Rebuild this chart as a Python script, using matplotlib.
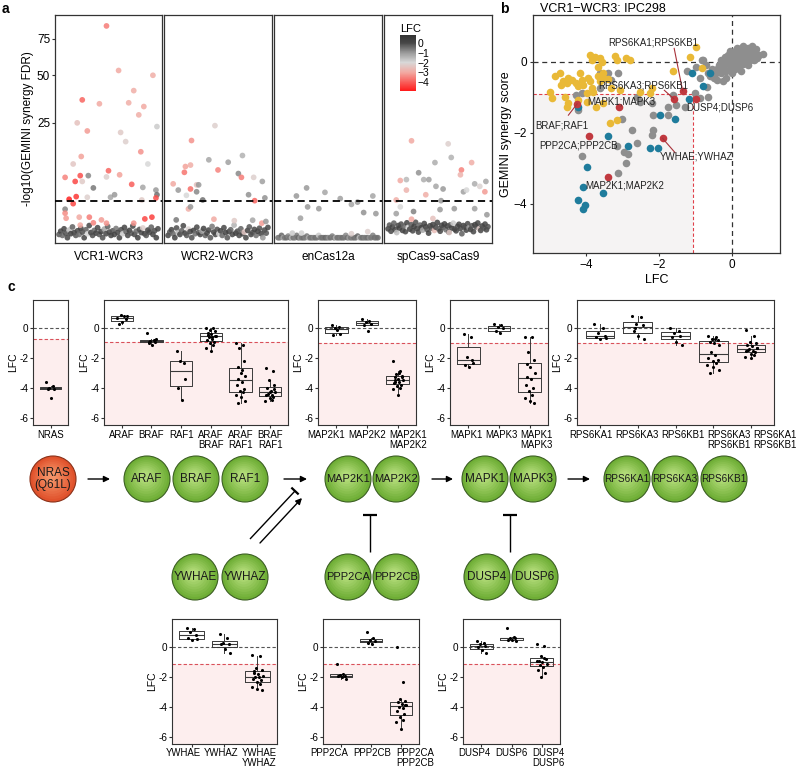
import numpy as np
import matplotlib
matplotlib.use('Agg')
import matplotlib.pyplot as plt
from matplotlib.colors import LinearSegmentedColormap, Normalize, to_rgb
from matplotlib.cm import ScalarMappable
from matplotlib.patches import Circle, Rectangle

plt.rcParams['font.family'] = ['Liberation Sans', 'DejaVu Sans']

# ---------------------------------------------------------------- panel a data
FACETS = ['VCR1-WCR3', 'WCR2-WCR3', 'enCas12a', 'spCas9-saCas9']

# outliers: position rank in facet (0-1), -log10 FDR, LFC
A1_RANK = [0.48,0.60,0.94,0.24,0.41,0.75,0.70,0.85,0.80,0.19,0.29,0.62,0.67,0.98,0.82,0.23,0.15,0.89,0.07,0.50,
           0.22,0.61,0.30,0.24,0.17,0.48,0.73,0.84,0.35,0.97,0.98,0.52,0.56,0.29,0.11,0.15,0.18,0.97,0.83,0.07,
           0.07,0.08,0.86,0.93,0.21,0.31,0.43,0.48,0.75,0.35,0.22]
A1_FDR = [85,53,50,36,34,41,34.5,32.6,28.6,25,21.6,21,17.5,23.4,14,12.5,10.3,10.3,6.9,8.5,
          7.3,7.5,7.3,6.0,6.0,7.0,5.4,4.8,4.7,4.3,3.5,3.1,3.5,3.1,2.8,2.2,3.2,3.0,2.7,1.54,
          1.14,0.72,0.67,0.8,0.8,0.8,0.6,0.4,0.4,0.42,0.3]
A1_LFC = [-3.6,-3.0,-2.9,-3.9,-3.0,-2.9,-2.9,-3.0,-2.9,-2.5,-3.2,-2.3,-2.2,-1.8,-3.3,-3.1,-2.4,-2.0,-3.5,-3.9,
          -4.2,-3.1,-0.8,-2.3,-4.3,-2.2,-4.0,-1.2,-0.6,-1.0,-0.5,-1.2,-1.0,-2.2,-4.8,-4.3,-4.5,-4.2,-2.3,-0.7,
          -3.4,-3.2,-4.3,-4.4,-3.0,-3.6,-3.2,-3.3,-3.3,-3.5,-3.0]
A1_BG_FDR = [0.02,0.08,0.01,0.15,0.04,0.0,0.11,0.03,0.22,0.05,0.01,0.09,0.02,0.17,0.06,0.0,0.12,0.03,0.28,0.05,
             0.01,0.1,0.04,0.19,0.02,0.07,0.0,0.14,0.03,0.24,0.06,0.01,0.09,0.02,0.16,0.05,0.0,0.12,0.03,0.2,
             0.07,0.01,0.1,0.04,0.26,0.02,0.08,0.0,0.13,0.05,0.18,0.03,0.01,0.11,0.06,0.21,0.02,0.09,0.0,0.15]
A1_BG_LFC = [-0.2,0.1,-0.4,0.2,-0.1,0.0,-1.6,0.3,-0.3,0.1,-0.2,0.0,-0.5,0.2,-0.1,0.1,-0.3,-2.0,0.0,0.2,
             -0.1,-0.4,0.1,0.0,-0.2,0.3,-0.1,-1.2,0.1,-0.3,0.0,0.2,-0.2,0.1,-0.6,0.0,0.2,-0.1,-1.8,0.1,
             -0.3,0.0,0.2,-0.2,0.1,0.0,-0.4,0.3,-0.1,0.0,-2.2,0.1,-0.2,0.2,0.0,-0.3,0.1,-0.1,0.2,0.0]

A2_RANK = [0.47,0.24,0.41,0.74,0.60,0.18,0.23,0.17,0.50,0.70,0.73,0.85,0.06,0.29,0.31,0.23,0.11,0.29,0.19,0.80,
           0.86,0.35,0.21,0.23,0.09,0.46,0.66,0.84,0.93,0.935,0.96,0.97]
A2_FDR = [23.8,17.9,11.5,12.8,10.8,9.6,10.0,8.1,8.7,7.8,6.9,6.9,5.5,5.3,5.3,4.5,4.3,4.0,3.4,3.5,
          2.6,2.7,1.57,1.8,0.6,0.65,0.55,0.58,0.4,6.0,3.0,0.5]
A2_LFC = [-2.2,-3.3,-1.2,-1.4,-1.1,-3.1,-2.9,-3.7,-3.5,-0.8,-3.6,-2.2,-3.0,-2.5,-1.0,-3.8,-1.0,-0.8,-2.0,-0.9,
          -3.9,-0.5,-2.9,-1.0,-0.6,-3.0,-2.3,-1.2,-3.2,-1.1,-0.9,-1.0]
A2_BG_FDR = [0.01,0.06,0.12,0.03,0.0,0.18,0.05,0.02,0.09,0.27,0.04,0.01,0.14,0.07,0.0,0.1,0.03,0.21,0.05,0.02,
             0.08,0.16,0.01,0.04,0.11,0.0,0.24,0.06,0.02,0.13,0.03,0.09,0.01,0.19,0.05,0.0,0.07,0.12,0.02,0.3,
             0.04,0.08,0.01,0.15,0.03,0.06,0.0,0.1,0.22,0.02,0.05,0.13,0.01,0.08,0.17,0.03,0.0,0.11,0.04,0.2]
A2_BG_LFC = [0.1,-0.2,0.0,-0.4,0.2,-0.1,-1.5,0.1,-0.3,0.0,0.2,-0.2,-2.1,0.1,-0.1,0.3,-0.5,0.0,-0.2,0.1,
             -1.1,0.2,-0.3,0.0,0.1,-0.2,-0.6,0.2,0.0,-0.1,-1.9,0.1,-0.4,0.0,0.2,-0.2,0.1,-0.3,0.0,-1.4,
             0.2,-0.1,0.0,-0.3,0.1,-2.4,0.0,0.2,-0.2,0.1,-0.1,0.0,-0.5,0.2,-0.1,0.1,-1.0,0.0,-0.2,0.1]

A3_RANK = [0.29,0.19,0.47,0.62,0.94,0.30,0.41,0.23,0.79,0.85,0.73,0.97,0.89,0.15,0.24,0.73]
A3_FDR = [4.7,3.3,3.9,2.9,3.3,1.8,1.6,0.72,2.4,1.2,2.1,1.1,0.07,0.04,0.04,0.03]
A3_LFC = [-1.0,-1.0,-1.2,-1.1,-1.2,-1.0,-1.0,-1.1,-1.0,-0.9,-1.2,-1.0,-2.2,-1.8,-1.9,-2.2]
A3_BG_FDR = [0.0,0.0,0.01,0.0,0.0,0.0,0.005,0.0,0.0,0.0,0.0,0.01,0.0,0.0,0.0,0.0,0.0,0.005,0.0,0.0,
             0.0,0.0,0.0,0.0,0.01,0.0,0.0,0.0,0.0,0.0,0.0,0.0,0.005,0.0,0.0,0.0,0.0,0.0,0.0,0.0,
             0.01,0.0,0.0,0.0,0.0,0.0,0.0,0.005,0.0,0.0,0.0,0.0,0.0,0.0,0.0,0.0,0.01,0.0,0.0,0.0]
A3_BG_LFC = [-0.5,-0.7,-0.4,-1.2,-0.6,-0.5,-0.8,-0.6,-1.5,-0.5,-0.7,-0.6,-0.4,-1.0,-0.6,-0.5,-0.7,-0.6,-1.3,-0.5,
             -0.6,-0.8,-0.5,-0.6,-1.8,-0.7,-0.5,-0.6,-0.4,-0.6,-0.9,-0.5,-0.7,-0.6,-1.4,-0.5,-0.6,-0.7,-0.5,-0.6,
             -0.8,-0.5,-1.1,-0.6,-0.7,-0.5,-0.6,-0.4,-1.6,-0.6,-0.5,-0.7,-0.6,-0.5,-0.9,-0.6,-0.7,-0.5,-0.6,-0.5]

A4_RANK = [0.24,0.60,0.63,0.47,0.83,0.73,0.72,0.13,0.19,0.31,0.36,0.41,0.48,0.55,0.19,0.38,0.75,0.78,0.86,0.91,
           0.97,0.96,0.09,0.53,0.13,0.26,0.52,0.66,0.86,0.98,0.09,0.24,0.45,0.61]
A4_FDR = [17.8,16.7,12.2,10.7,10.7,8.7,7.5,6.2,6.4,8.0,6.4,6.4,5.0,4.5,4.3,3.5,4.0,4.3,5.5,5.0,
          6.0,4.0,2.7,2.6,1.8,1.3,1.5,1.6,1.6,1.0,1.1,0.65,0.7,0.05]
A4_LFC = [-3.0,-2.2,-1.4,-1.3,-2.9,-3.5,-2.8,-3.0,-1.5,-0.9,-1.3,-1.1,-1.2,-1.0,-2.8,-2.9,-1.1,-2.0,-1.3,-2.1,
          -1.2,-3.2,-2.9,-1.0,-2.0,-0.7,-1.0,-1.0,-1.1,-1.0,-1.1,-3.0,-2.5,-2.3]
A4_BG_FDR = [0.15,0.3,0.08,0.22,0.4,0.12,0.05,0.28,0.18,0.35,0.1,0.25,0.07,0.42,0.2,0.14,0.32,0.09,0.24,0.45,
             0.16,0.06,0.3,0.19,0.11,0.38,0.23,0.13,0.04,0.27,0.17,0.33,0.1,0.21,0.44,0.15,0.08,0.29,0.2,0.36,
             0.12,0.26,0.06,0.31,0.18,0.4,0.14,0.09,0.24,0.34,0.16,0.03,0.28,0.21,0.11,0.37,0.19,0.13,0.27,0.07,
             0.32,0.22,0.41,0.15,0.1,0.26,0.18,0.35,0.12,0.23]
A4_BG_LFC = [0.1,-0.2,0.0,0.2,-0.3,0.1,-1.6,0.0,0.2,-0.1,0.1,-0.4,0.0,0.2,-2.0,0.1,-0.2,0.0,0.3,-0.1,
             0.1,0.0,-0.3,0.2,-1.2,0.0,0.1,-0.2,0.2,0.0,-0.1,0.1,-2.6,0.0,0.2,-0.3,0.1,0.0,-0.1,0.2,
             -0.5,0.1,0.0,-0.2,0.2,-1.8,0.0,0.1,-0.1,0.2,0.0,-0.3,0.1,-0.1,0.2,0.0,-1.0,0.1,-0.2,0.0,
             0.2,-0.1,0.1,-2.3,0.0,0.2,-0.2,0.1,0.0,-0.1]
FDR_LINE = 2.56

# ---------------------------------------------------------------- panel b data
B_GRAY_LFC = [-4.26,-4.21,-4.12,-3.62,-3.39,-3.30,-3.62,-3.11,-2.61,-2.52,-2.20,-2.16,-1.74,-1.74,-1.61,-1.29,-1.52,
              -2.75,-2.61,-2.20,-2.16,-3.16,-3.02,-2.96,-2.89,-2.84,-4.12,-3.11,-1.01,-0.88,-0.65,-0.69,-0.83,-0.97,
              -1.24,-0.88,
              -0.45,-0.4,-0.35,-0.3,-0.25,-0.2,-0.15,-0.1,-0.05,0.0,0.05,0.1,0.15,0.2,0.25,0.3,0.35,0.4,0.45,0.5,
              0.55,0.6,0.65,0.75,0.85,0.3,0.2,0.1,-0.1,-0.2,-0.3,-0.5,-0.6,-0.55,-0.4,0.0,0.1,0.2,0.3,0.4,0.5,
              0.6,0.7,0.05,-0.05,0.15,0.35,0.45,0.55,0.25,-0.15,-0.25,-0.7,-0.8,-0.65,0.0,0.25,0.45,-0.05,0.65]
B_GRAY_SCORE = [-0.93,-1.35,-0.88,-0.30,-0.30,-0.51,-0.74,-0.32,-0.98,-1.12,-1.16,-1.49,-1.26,-1.49,-0.93,-1.26,-1.21,
                -1.92,-2.29,-2.06,-1.92,-2.38,-1.62,-2.55,-2.84,-2.59,-2.65,-3.14,-0.88,-1.02,-0.98,-0.71,0.06,-0.13,
                -0.27,-0.46,
                -0.35,-0.2,-0.1,-0.3,-0.15,-0.05,-0.25,0.0,-0.1,0.05,-0.05,0.1,0.0,0.15,0.05,0.2,0.1,0.25,0.15,0.3,
                0.2,0.25,0.15,0.2,0.22,0.45,0.35,0.3,0.2,0.15,0.05,-0.45,-0.4,-0.2,-0.5,-0.3,-0.2,-0.1,-0.05,0.0,0.05,
                0.05,0.1,0.2,0.3,0.4,0.35,0.4,0.45,-0.25,-0.45,-0.55,-0.1,0.05,-0.3,0.15,0.25,-0.1,-0.2,0.35]
B_YEL_LFC = [-4.99,-4.85,-4.71,-4.62,-4.53,-4.67,-4.48,-4.39,-4.26,-4.12,-3.89,-3.84,-3.75,-3.62,-3.66,-3.57,-3.89,
             -3.94,-4.07,-3.84,-4.21,-3.98,-3.80,-3.66,-3.53,-3.39,-3.21,-2.89,-2.79,-4.21,-3.98,-3.71,-3.53,-4.53,
             -4.48,-3.16,-3.34,-3.62,-3.30,-3.07,-1.61,-1.15,-0.97,-0.83,-2.25,-2.20,-4.94,-4.58,-4.16,-3.53,-3.16,
             -2.52]
B_YEL_SCORE = [-0.84,-0.41,-0.32,-0.55,-0.60,-0.65,-0.46,-0.51,-0.60,-0.51,0.20,0.06,0.15,0.10,-0.13,0.01,-0.55,
               -0.46,-0.65,-0.74,-0.68,-0.88,-0.84,-0.41,-0.46,-0.49,0.17,0.10,0.06,-1.07,-1.12,-1.26,-1.16,-1.26,
               -1.16,-1.63,-1.73,-0.55,-0.74,-0.79,-0.27,0.15,0.43,-0.18,-0.88,-0.74,-1.02,-0.98,-0.32,-0.32,0.06,
               -0.84]
B_BLUE_LFC = [-1.10,-0.60,-0.79,-1.18,-1.56,-1.97,-3.39,-2.84,-2.25,-2.02,-3.98,-4.07,-4.21,-4.03,-4.09,-3.53,-4.21]
B_BLUE_SCORE = [-0.30,-0.32,-0.69,-1.05,-1.61,-1.50,-2.10,-2.38,-2.43,-2.43,-2.95,-3.51,-3.89,-4.03,-4.15,-3.70,-1.28]
B_RED_NAMES = ['RPS6KA1;RPS6KB1','RPS6KA3;RPS6KB1','DUSP4;DUSP6','MAPK1;MAPK3','BRAF;RAF1',
               'PPP2CA;PPP2CB','YWHAE;YWHAZ','MAP2K1;MAP2K2']
B_RED_LFC = [-1.35,-1.59,-0.97,-3.10,-4.24,-3.91,-1.90,-3.39]
B_RED_SCORE = [-0.81,-1.04,-1.04,-1.28,-1.18,-2.08,-2.15,-3.23]
B_LFC_CUT = -1.07
B_SCORE_CUT = -0.9

# ---------------------------------------------------------------- panel c data
NRAS = [-3.6,-3.9,-4.0,-4.05,-4.1,-4.7]
ARAF = [0.7,0.8,0.9,0.6,0.3,0.4,0.85]
BRAF = [-0.3,-0.8,-0.85,-0.9,-1.0,-1.1,-0.75,-0.9]
RAF1 = [-1.5,-2.3,-2.2,-3.4,-4.0,-4.8]
ARAF_BRAF = [0.0,0.0,-0.1,-0.2,-0.3,-0.4,-0.5,-0.6,-0.7,-0.8,-0.9,-1.0,-1.1,-1.3,-1.5,-0.5,-0.45,-0.6]
ARAF_RAF1 = [-1.0,-1.1,-1.3,-2.2,-2.6,-3.0,-3.2,-3.4,-3.6,-3.8,-4.1,-4.2,-4.3,-4.5,-4.6,-4.9,-5.0,-2.8]
BRAF_RAF1 = [-2.7,-2.9,-3.5,-3.8,-4.0,-4.2,-4.3,-4.4,-4.5,-4.5,-4.6,-4.7,-4.8,-4.9,-4.3,-4.1]
MAP2K1 = [0.2,0.1,0.0,-0.4,-0.45,-0.1]
MAP2K2 = [0.6,0.5,0.4,0.3,0.2,-0.2]
MAP2K1_MAP2K2 = [-2.2,-2.9,-3.1,-3.2,-3.3,-3.4,-3.5,-3.5,-3.6,-3.7,-3.8,-3.9,-4.0,-4.1,-4.5,-3.3,-3.6,-3.0]
MAPK1 = [-0.4,-0.6,-1.9,-2.1,-2.5,-2.6,-2.3]
MAPK3 = [0.3,0.2,0.1,0.0,-0.2,-0.3]
MAPK1_MAPK3 = [-0.6,-0.6,-1.6,-2.1,-2.4,-2.6,-3.0,-3.3,-3.4,-3.8,-4.0,-4.2,-4.5,-4.7,-4.9,-5.0]
RPS6KA1 = [0.3,0.0,-0.3,-0.5,-0.6,-0.7,-0.65]
RPS6KA3 = [0.8,0.75,0.3,0.2,-0.2,-0.55,-0.75,0.0]
RPS6KB1 = [0.0,-0.2,-0.3,-0.5,-0.6,-0.9,-1.1]
RPS6KA3_RPS6KB1 = [-0.5,-0.6,-0.7,-0.8,-0.9,-1.0,-1.1,-1.6,-1.8,-2.0,-2.1,-2.2,-2.3,-2.5,-2.6,-2.8,-3.0,-0.75]
RPS6KA1_RPS6KB1 = [-0.1,-0.5,-0.9,-1.0,-1.1,-1.2,-1.3,-1.4,-1.5,-1.5,-1.6,-1.7,-1.8,-1.9,-2.0,-1.35,-1.45]
YWHAE = [1.3,1.2,1.0,0.8,0.6,0.5,0.55]
YWHAZ = [0.9,0.6,0.3,0.2,0.2,-0.1,-0.4]
YWHAE_YWHAZ = [-0.5,-0.6,-1.4,-1.5,-1.6,-1.8,-1.9,-2.0,-2.0,-2.1,-2.2,-2.3,-2.5,-2.7,-2.8,-2.9,-1.7]
PPP2CA = [-1.1,-1.8,-1.85,-1.9,-1.95,-2.0,-2.1]
PPP2CB = [1.0,0.6,0.5,0.4,0.3,0.2]
PPP2CA_PPP2CB = [0.0,-2.3,-3.5,-3.6,-3.7,-3.8,-3.9,-4.0,-4.1,-4.3,-4.5,-4.7,-4.9,-5.0,-5.5,-3.9]
DUSP4 = [0.4,0.3,0.2,0.1,0.0,-0.2,-0.4]
DUSP6 = [1.3,0.7,0.6,0.6,0.5,0.5,0.4]
DUSP4_DUSP6 = [0.2,0.1,-0.6,-0.8,-0.9,-1.0,-1.1,-1.2,-1.3,-1.5,-1.7,-2.0,-0.7,-0.95]

C_PANELS_ROW1 = [
    (['NRAS'], [NRAS], -0.73),
    (['ARAF','BRAF','RAF1','ARAF\nBRAF','ARAF\nRAF1','BRAF\nRAF1'],
     [ARAF,BRAF,RAF1,ARAF_BRAF,ARAF_RAF1,BRAF_RAF1], -0.93),
    (['MAP2K1','MAP2K2','MAP2K1\nMAP2K2'], [MAP2K1,MAP2K2,MAP2K1_MAP2K2], -1.0),
    (['MAPK1','MAPK3','MAPK1\nMAPK3'], [MAPK1,MAPK3,MAPK1_MAPK3], -1.0),
    (['RPS6KA1','RPS6KA3','RPS6KB1','RPS6KA3\nRPS6KB1','RPS6KA1\nRPS6KB1'],
     [RPS6KA1,RPS6KA3,RPS6KB1,RPS6KA3_RPS6KB1,RPS6KA1_RPS6KB1], -0.98),
]
C_PANELS_ROW2 = [
    (['YWHAE','YWHAZ','YWHAE\nYWHAZ'], [YWHAE,YWHAZ,YWHAE_YWHAZ], -1.13),
    (['PPP2CA','PPP2CB','PPP2CA\nPPP2CB'], [PPP2CA,PPP2CB,PPP2CA_PPP2CB], -1.13),
    (['DUSP4','DUSP6','DUSP4\nDUSP6'], [DUSP4,DUSP6,DUSP4_DUSP6], -1.13),
]

# ---------------------------------------------------------------- figure
W, H = 798, 768
fig = plt.figure(figsize=(W / 100, H / 100), dpi=100)


def px_axes(l, t, r, b, **kw):
    return fig.add_axes([l / W, 1 - b / H, (r - l) / W, (b - t) / H], **kw)


FRAME = '#333333'

# ---- panel a
norm = Normalize(vmin=-4.9, vmax=0.8)
cmap = LinearSegmentedColormap.from_list('lfc', [
    (0.0, '#ff1a1a'), (0.333, '#f2aaa2'), (0.509, '#d8d8d8'),
    (0.684, '#9a9a9a'), (0.86, '#474747'), (1.0, '#333333')])


def fwd(v):
    v = np.asarray(v, dtype=float)
    return np.sign(v) * np.sqrt(np.abs(v))


def inv(v):
    v = np.asarray(v, dtype=float)
    return np.sign(v) * v ** 2


facet_px = [(55, 162), (164, 272), (274, 382), (384, 492)]
facet_data = [
    (A1_RANK, A1_FDR, A1_LFC, A1_BG_FDR, A1_BG_LFC),
    (A2_RANK, A2_FDR, A2_LFC, A2_BG_FDR, A2_BG_LFC),
    (A3_RANK, A3_FDR, A3_LFC, A3_BG_FDR, A3_BG_LFC),
    (A4_RANK, A4_FDR, A4_LFC, A4_BG_FDR, A4_BG_LFC),
]
for i, ((l, r), name, (rk, fd, lf, bfd, blf)) in enumerate(zip(facet_px, FACETS, facet_data)):
    ax = px_axes(l, 15, r, 243)
    ax.set_yscale('function', functions=(fwd, inv))
    n = min(len(bfd), len(blf))
    bx = np.linspace(0.01, 0.99, n)
    ax.scatter(bx, bfd[:n], c=blf[:n], cmap=cmap, norm=norm, s=17, alpha=0.85, lw=0, zorder=2)
    m = min(len(rk), len(fd), len(lf))
    ax.scatter(rk[:m], fd[:m], c=lf[:m], cmap=cmap, norm=norm, s=17, alpha=0.85, lw=0, zorder=3)
    ax.axhline(FDR_LINE, color='black', lw=1.3, ls=(0, (4, 2.5)), zorder=4)
    ax.set_xlim(-0.03, 1.03)
    ax.set_ylim(-0.053, 94)
    ax.set_xticks([])
    for s in ax.spines.values():
        s.set_color(FRAME)
        s.set_linewidth(0.9)
    if i == 0:
        ax.set_yticks([25, 50, 75])
        ax.set_yticklabels(['25', '50', '75'], fontsize=8.5)
        ax.tick_params(axis='y', length=2, pad=1.5, color=FRAME)
        ax.yaxis.set_minor_locator(matplotlib.ticker.NullLocator())
        ax.set_ylabel('-log10(GEMINI synergy FDR)', fontsize=8.5, labelpad=2)
    else:
        ax.set_yticks([])
        ax.yaxis.set_minor_locator(matplotlib.ticker.NullLocator())
    ax.text(0.5, -0.035, name, transform=ax.transAxes, ha='center', va='top', fontsize=8.5)

cax = px_axes(400, 35, 416, 91)
cb = fig.colorbar(ScalarMappable(norm=norm, cmap=cmap), cax=cax)
cb.outline.set_visible(False)
cb.set_ticks([0, -1, -2, -3, -4])
cb.set_ticklabels(['0', '\u22121', '\u22122', '\u22123', '\u22124'])
cax.tick_params(length=0, pad=1, labelsize=7.5)
cax.set_title('LFC', fontsize=8, loc='left', pad=2)

# ---- panel b
axb = px_axes(533, 15, 780, 253)
xl, yl = (-5.45, 1.32), (-5.38, 1.32)
axb.add_patch(Rectangle((xl[0], yl[0]), B_LFC_CUT - xl[0], B_SCORE_CUT - yl[0],
                        facecolor='#f5f3f3', edgecolor='none', zorder=0))
axb.plot([xl[0], B_LFC_CUT], [B_SCORE_CUT, B_SCORE_CUT], color='#e0404a', lw=0.8, ls=(0, (3, 2)), zorder=1)
axb.plot([B_LFC_CUT, B_LFC_CUT], [yl[0], B_SCORE_CUT], color='#e0404a', lw=0.8, ls=(0, (3, 2)), zorder=1)
axb.axhline(0, color='#333333', lw=0.9, ls=(0, (4, 3)), zorder=1)
axb.axvline(0, color='#333333', lw=0.9, ls=(0, (4, 3)), zorder=1)
axb.scatter(B_GRAY_LFC, B_GRAY_SCORE, s=30, color='#8e8e8e', lw=0, zorder=2)
axb.scatter(B_YEL_LFC, B_YEL_SCORE, s=30, color='#e9b937', lw=0, zorder=3)
axb.scatter(B_BLUE_LFC, B_BLUE_SCORE, s=30, color='#1f7c9c', lw=0, zorder=3)
axb.scatter(B_RED_LFC, B_RED_SCORE, s=30, color='#c1393f', lw=0, zorder=4)
lab_pos = {
    'RPS6KA1;RPS6KB1': ((-2.16, 0.55), (-1.58, 0.38)),
    'RPS6KA3;RPS6KB1': ((-2.43, -0.67), (-1.85, -0.8)),
    'MAPK1;MAPK3': ((-3.02, -1.12), None),
    'DUSP4;DUSP6': ((-0.33, -1.29), None),
    'BRAF;RAF1': ((-4.67, -1.79), (-4.48, -1.5)),
    'PPP2CA;PPP2CB': ((-4.19, -2.36), None),
    'YWHAE;YWHAZ': ((-0.97, -2.67), (-1.56, -2.55)),
    'MAP2K1;MAP2K2': ((-2.93, -3.49), None),
}
for nm, x0, y0 in zip(B_RED_NAMES, B_RED_LFC, B_RED_SCORE):
    (tx, ty), ls = lab_pos[nm]
    if ls is not None:
        axb.plot([ls[0], x0], [ls[1], y0], color='#a8323a', lw=0.8, zorder=5)
    axb.text(tx, ty, nm, fontsize=7, ha='center', va='center', zorder=6, color='#222222')
axb.set_xlim(*xl)
axb.set_ylim(*yl)
axb.set_xticks([-4, -2, 0])
axb.set_xticklabels(['\u22124', '\u22122', '0'], fontsize=8.5)
axb.set_yticks([-4, -2, 0])
axb.set_yticklabels(['\u22124', '\u22122', '0'], fontsize=8.5)
axb.tick_params(length=2.5, pad=2, color=FRAME)
axb.set_xlabel('LFC', fontsize=9, labelpad=2)
axb.set_ylabel('GEMINI synergy score', fontsize=9, labelpad=1)
for s in axb.spines.values():
    s.set_color(FRAME)
    s.set_linewidth(0.9)
fig.text(540 / W, 1 - 9 / H, 'VCR1\u2212WCR3: IPC298', fontsize=9, ha='left', va='center')

# ---- panel c boxplots
JIT = [-0.15, 0.08, -0.04, 0.13, -0.1, 0.02, 0.16, -0.07, 0.05, -0.13,
       0.11, -0.02, 0.07, -0.16, 0.0, 0.14, -0.09, 0.04, -0.12, 0.1]
LABEL_FS = 6.9


def box_panel(l, t, r, b, labels, groups, thr, spread=None, shift=0.0):
    ax = px_axes(l, t, r, b)
    n = len(labels)
    ylo, yhi = -6.5, 1.9
    ax.axhspan(ylo, thr, color='#fdeeee', lw=0, zorder=0)
    ax.axhline(0, color='#555555', lw=0.8, ls=(0, (3, 2)), zorder=1)
    ax.axhline(thr, color='#d9505a', lw=0.8, ls=(0, (3, 2)), zorder=1)
    pos = np.arange(1, n + 1)
    lp = dict(color='#3a3a3a', lw=0.7)
    ax.boxplot(groups, positions=pos, widths=0.75, showfliers=False, showcaps=False,
               boxprops=lp, whiskerprops=lp, medianprops=dict(color='#3a3a3a', lw=0.8),
               manage_ticks=False, zorder=2)
    for p, g in zip(pos, groups):
        xs = [p + JIT[k % len(JIT)] for k in range(len(g))]
        ax.scatter(xs, g, s=5, color='black', lw=0, zorder=3)
    ax.set_xlim(0.4, n + 0.6)
    ax.set_ylim(ylo, yhi)
    ax.set_xticks(pos)
    ax.set_xticklabels([])
    step = (r - l) / (n + 0.2)
    if spread is None:
        spread = step
    mid = (l + r) / 2 + shift
    for k, lab in enumerate(labels):
        xp = mid + (k - (n - 1) / 2) * spread
        fig.text(xp / W, 1 - (b + 4.5) / H, lab, ha='center', va='top', fontsize=LABEL_FS,
                 linespacing=1.0)
    ax.set_yticks([0, -2, -4, -6])
    ax.set_yticklabels(['0', '-2', '-4', '-6'], fontsize=7.2)
    ax.tick_params(length=2, pad=1.5, color=FRAME)
    ax.set_ylabel('LFC', fontsize=7.5, labelpad=1)
    for s in ax.spines.values():
        s.set_color(FRAME)
        s.set_linewidth(0.8)
    return ax


row1_px = [(33, 68, None, 0), (104, 288, None, 0), (318, 416, 41, 0), (450, 548, 35, 2), (577, 774, 46, 7)]
for (l, r, sp, sh), (labels, groups, thr) in zip(row1_px, C_PANELS_ROW1):
    box_panel(l, 300, r, 425, labels, groups, thr, sp, sh)
row2_px = [(172, 277, 38, -3), (323, 419, 43, 1), (463, 560, 37, 0)]
for (l, r, sp, sh), (labels, groups, thr) in zip(row2_px, C_PANELS_ROW2):
    box_panel(l, 619, r, 744, labels, groups, thr, sp, sh)

# ---- pathway diagram (overlay in pixel coordinates)
ov = fig.add_axes([0, 0, 1, 1])
ov.set_xlim(0, W)
ov.set_ylim(H, 0)
ov.axis('off')
ov.set_zorder(-1)


def node(x, y, label, edge, centre, fs=8.5, r=23):
    c0, c1 = np.array(to_rgb(edge)), np.array(to_rgb(centre))
    ov.add_patch(Circle((x, y), r, facecolor=edge, edgecolor='#3b5f22' if edge != '#e0522c' else '#8a3018',
                        lw=0.8, zorder=2))
    for k in range(1, 9):
        f = k / 9
        col = c0 * (1 - f) + c1 * f
        ov.add_patch(Circle((x - 2 * f, y - 3 * f), r * (1 - 0.85 * f) - 0.5, facecolor=col,
                            edgecolor='none', zorder=2))
    ov.text(x, y, label, ha='center', va='center', fontsize=fs, color='#1a1a1a', zorder=3,
            linespacing=1.05)


G_E, G_C = '#6fae36', '#b9e07f'
node(53, 479, 'NRAS\n(Q61L)', '#e0522c', '#f79a6e')
for x, lab in [(147, 'ARAF'), (196, 'BRAF'), (245, 'RAF1'), (348, 'MAP2K1'), (396, 'MAP2K2'),
               (485, 'MAPK1'), (533, 'MAPK3'), (195, 'YWHAE'), (245, 'YWHAZ'), (348, 'PPP2CA'),
               (396, 'PPP2CB'), (487, 'DUSP4'), (535, 'DUSP6')]:
    y = 479 if lab in ('ARAF', 'BRAF', 'RAF1', 'MAP2K1', 'MAP2K2', 'MAPK1', 'MAPK3') else 577
    node(x, y, lab, G_E, G_C, fs=8.5 if len(lab) <= 5 else 8)
for x, lab in [(627, 'RPS6KA1'), (675, 'RPS6KA3'), (724, 'RPS6KB1')]:
    node(x, 479, lab, G_E, G_C, fs=7.2)

arr = dict(arrowstyle='-|>', color='black', lw=1.0, mutation_scale=9, shrinkA=0, shrinkB=0)
for x0, x1 in [(88, 110), (284, 307), (432, 453), (568, 590)]:
    ov.annotate('', xy=(x1, 479), xytext=(x0, 479), arrowprops=arr)
ov.annotate('', xy=(302, 498), xytext=(260, 543), arrowprops=arr)


def tbar(x0, y0, x1, y1, half=6.5):
    ov.plot([x0, x1], [y0, y1], color='black', lw=1.0, solid_capstyle='butt')
    d = np.array([x1 - x0, y1 - y0], dtype=float)
    d /= np.hypot(*d)
    p = np.array([-d[1], d[0]])
    ov.plot([x1 - p[0] * half, x1 + p[0] * half], [y1 - p[1] * half, y1 + p[1] * half],
            color='black', lw=1.6, solid_capstyle='butt')


tbar(250, 539, 295, 491, half=5)
tbar(370, 552, 370, 515, half=7)
tbar(510, 552, 510, 515, half=7)

for lab, x, y in [('a', 2, 9), ('b', 500, 9), ('c', 8, 287)]:
    ov.text(x, y, lab, fontsize=10, fontweight='bold', ha='left', va='center')

fig.savefig('out.png', dpi=100)
